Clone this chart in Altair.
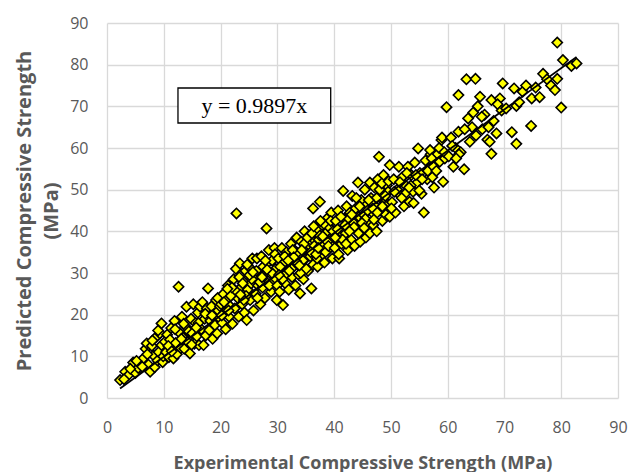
import altair as alt
import pandas as pd

# Experimental (x) and predicted (y) compressive strength, in bands of x
exp_a = [2.3, 3.2, 3.8, 4.6, 5.0, 5.5, 6.0, 6.4, 6.8, 7.0, 7.3, 7.6, 7.9, 8.2, 8.4, 8.7, 8.9, 9.1, 9.3, 9.6,
         9.6, 9.8, 6.2, 5.2, 7.1, 8.0, 9.0, 4.1, 3.0, 9.9]
pred_a = [4.3, 6.3, 5.5, 8.5, 6.0, 7.2, 8.8, 9.5, 11.8, 13.1, 8.0, 6.3, 12.5, 10.2, 7.4, 14.7, 9.0, 11.0, 15.5, 17.9,
          12.7, 8.6, 7.5, 8.9, 10.5, 13.8, 16.2, 7.0, 4.5, 10.0]

exp_b = [10.2, 10.4, 10.6, 10.9, 11.1, 11.3, 11.5, 11.7, 11.9, 12.1, 12.3, 12.6, 12.8, 13.0, 13.2, 13.4, 13.6, 13.8,
         14.0, 14.2, 14.4, 14.6, 14.8, 15.0, 15.2, 15.4, 15.6, 15.8, 16.0, 16.2, 16.4, 16.6, 16.8, 17.0, 17.2, 17.4,
         17.6, 17.8, 18.0, 18.2, 18.4, 18.6, 18.8, 19.0, 19.2, 19.4, 19.6, 19.8, 10.8, 12.0, 13.5, 14.9, 16.1, 17.3,
         18.5, 19.5, 11.4, 13.1, 15.7, 19.9]
pred_b = [13.5, 11.0, 15.2, 9.8, 14.0, 16.8, 12.2, 9.5, 18.5, 13.2, 10.5, 26.7, 15.6, 12.0, 19.5, 14.5, 11.8, 17.2,
          21.9, 13.5, 16.0, 10.7, 19.0, 15.5, 22.5, 13.0, 18.0, 14.8, 20.5, 12.7, 21.9, 16.5, 23.0, 12.7, 19.0, 15.0,
          21.5, 26.3, 16.3, 18.5, 22.0, 14.2, 20.0, 17.5, 23.5, 15.5, 21.0, 19.2, 12.5, 16.5, 17.8, 12.8, 18.0, 20.2,
          19.8, 24.0, 11.2, 14.2, 16.9, 22.0]

exp_c = [20.1, 20.3, 20.5, 20.7, 20.9, 21.1, 21.3, 21.5, 21.7, 21.9, 22.1, 22.3, 22.5, 22.7, 22.8, 23.0, 23.2, 23.4,
         23.6, 23.8, 24.0, 24.2, 24.4, 24.6, 24.8, 25.0, 25.2, 25.4, 25.6, 25.8, 26.0, 26.2, 26.4, 26.6, 26.8, 27.0,
         27.2, 27.4, 27.6, 27.8, 28.0, 28.1, 28.3, 28.5, 28.7, 28.9, 29.1, 29.3, 29.5, 29.7, 29.9, 20.6, 21.4, 22.6,
         23.3, 24.5, 25.5, 26.5, 27.5, 28.6, 29.6, 20.2, 21.8, 23.9, 25.1, 26.9, 28.2, 29.2, 22.0, 24.1, 26.3, 27.9,
         29.8, 21.2, 25.7, 23.5, 27.3, 24.7]
pred_c = [22.5, 18.0, 25.0, 20.5, 16.5, 23.5, 27.0, 19.5, 22.0, 25.5, 17.8, 28.5, 21.5, 31.0, 44.3, 24.0, 19.5, 32.3,
          26.5, 22.5, 28.0, 20.5, 30.5, 18.7, 26.0, 31.5, 23.5, 27.5, 33.5, 21.0, 29.0, 25.0, 33.5, 27.0, 30.0, 22.5,
          34.0, 26.5, 29.5, 24.0, 32.0, 40.7, 27.5, 35.5, 30.0, 25.5, 33.0, 28.0, 36.0, 31.0, 23.5, 23.0, 21.0, 25.8,
          29.0, 24.5, 28.5, 24.0, 31.5, 27.0, 34.5, 19.8, 24.5, 27.5, 29.5, 27.8, 30.8, 29.8, 26.5, 23.5, 30.5, 33.0,
          28.5, 26.2, 30.2, 24.8, 29.0, 32.0]

exp_d = [30.0, 30.2, 30.4, 30.6, 30.8, 31.0, 31.0, 31.2, 31.4, 31.6, 31.8, 32.0, 32.2, 32.4, 32.6, 32.8, 33.0, 33.2,
         33.4, 33.6, 33.8, 34.0, 34.0, 34.2, 34.4, 34.6, 34.8, 35.0, 35.2, 35.4, 35.6, 35.8, 36.0, 36.3, 36.3, 36.5,
         36.7, 36.9, 37.1, 37.3, 37.5, 37.7, 37.9, 38.1, 38.3, 38.5, 38.7, 38.9, 39.1, 39.3, 39.5, 39.7, 39.9, 30.5,
         31.5, 32.5, 33.5, 34.5, 35.5, 36.5, 37.5, 38.5, 39.5, 30.9, 32.1, 33.3, 34.7, 35.9, 37.0, 38.2, 39.4, 31.3,
         32.7, 34.1, 35.3, 36.1, 37.6, 38.8, 39.8, 30.3, 33.9, 36.8, 38.0, 35.1, 32.9, 37.2, 39.0, 31.9, 34.3, 36.4]
pred_d = [27.0, 33.5, 25.5, 30.0, 36.0, 22.3, 29.0, 32.5, 27.5, 35.0, 30.5, 26.0, 33.5, 37.0, 29.0, 31.5, 35.5, 27.0,
          38.5, 32.0, 29.5, 25.1, 34.5, 37.5, 31.0, 28.5, 40.0, 33.5, 36.0, 30.5, 39.0, 34.0, 26.3, 45.5, 32.0, 37.5,
          35.0, 40.5, 31.5, 38.0, 47.1, 34.0, 41.5, 36.5, 32.5, 39.5, 43.0, 35.5, 41.0, 37.0, 44.5, 33.5, 40.0, 31.5,
          29.8, 31.0, 34.8, 33.0, 36.8, 36.5, 39.0, 35.0, 38.5, 28.5, 30.5, 32.8, 37.0, 35.0, 33.5, 41.8, 42.5, 34.0,
          35.5, 30.0, 38.5, 39.5, 42.5, 37.5, 40.0, 29.5, 31.8, 34.5, 38.8, 31.0, 33.8, 36.0, 36.5, 33.0, 35.5, 41.2]

exp_e = [40.1, 40.3, 40.5, 40.7, 40.9, 41.1, 41.3, 41.6, 41.8, 42.0, 42.2, 42.4, 42.6, 42.8, 43.0, 43.2, 43.4, 43.6,
         43.8, 44.0, 44.2, 44.4, 44.6, 44.8, 45.0, 45.2, 45.4, 45.6, 45.8, 46.0, 46.3, 46.3, 46.5, 46.7, 46.9, 47.1,
         47.3, 47.5, 47.7, 47.9, 48.1, 48.3, 48.5, 48.7, 48.9, 49.1, 49.3, 49.5, 49.8, 49.8, 40.6, 41.5, 42.5, 43.5,
         44.5, 45.5, 46.5, 47.5, 48.5, 49.5, 40.2, 41.9, 43.1, 44.3, 45.9, 47.0, 48.0, 49.0, 42.7, 44.9, 46.8, 48.4,
         41.2, 43.9, 45.3, 47.6, 49.6, 40.8, 42.1, 46.1]
pred_e = [36.0, 42.5, 38.5, 45.0, 33.5, 40.0, 37.0, 49.7, 43.0, 39.5, 46.0, 35.5, 41.5, 44.5, 38.0, 48.5, 42.0, 36.5,
          45.5, 40.5, 51.7, 43.5, 37.5, 47.5, 41.0, 44.0, 50.0, 38.5, 46.5, 42.0, 51.7, 39.5, 48.0, 44.5, 41.5, 50.5,
          46.0, 40.0, 52.5, 57.9, 45.0, 49.0, 42.5, 53.5, 47.0, 44.0, 51.0, 46.5, 55.9, 43.5, 40.5, 38.0, 43.0, 41.0,
          46.0, 43.0, 47.0, 48.0, 46.0, 49.5, 38.5, 41.5, 44.0, 39.5, 45.0, 42.8, 50.0, 48.5, 40.0, 42.0, 45.5, 51.5,
          43.5, 48.0, 40.8, 44.5, 52.0, 34.5, 37.0, 47.5]

exp_f = [50.2, 50.5, 50.8, 51.1, 51.4, 51.7, 52.0, 52.3, 52.6, 53.0, 53.3, 53.6, 53.9, 54.2, 54.5, 54.8, 55.1, 55.4,
         55.8, 56.1, 56.4, 56.7, 57.0, 57.3, 57.6, 57.9, 58.2, 58.6, 58.9, 59.2, 59.5, 59.8, 50.6, 51.6, 52.5, 53.5,
         54.4, 55.5, 56.5, 57.5, 58.5, 59.4, 50.1, 51.9, 53.2, 55.0, 56.9, 58.0, 52.8, 54.0, 57.2, 59.0]
pred_f = [47.0, 52.5, 44.5, 50.0, 55.5, 48.5, 53.0, 46.0, 51.0, 55.5, 47.1, 53.5, 49.5, 56.5, 51.5, 59.9, 54.0, 49.0,
          44.5, 57.0, 52.5, 55.0, 58.5, 53.0, 50.5, 56.0, 58.5, 56.7, 61.9, 51.9, 57.5, 69.8, 49.5, 51.8, 49.0, 51.0,
          53.5, 52.5, 54.5, 55.5, 60.0, 59.0, 45.5, 48.0, 50.5, 49.8, 59.5, 54.5, 54.0, 46.8, 57.5, 62.5]

exp_g = [60.2, 60.6, 61.0, 61.4, 61.9, 61.9, 62.3, 62.9, 63.3, 63.6, 63.9, 64.3, 64.9, 65.3, 65.7, 66.1, 66.5, 67.0,
         67.4, 67.7, 67.7, 68.1, 68.6, 69.2, 69.7, 60.8, 62.0, 63.0, 64.5, 66.0, 67.2, 68.8, 65.0, 61.5, 69.5]
pred_g = [58.0, 62.5, 55.5, 60.0, 72.7, 63.9, 59.0, 54.9, 76.5, 67.1, 61.5, 65.0, 76.6, 70.0, 72.3, 64.5, 68.0, 62.0,
          61.5, 71.5, 58.6, 66.5, 63.5, 71.9, 75.5, 60.5, 58.5, 64.5, 68.5, 67.5, 65.0, 70.5, 63.0, 57.5, 69.0]

exp_h = [70.3, 71.3, 71.7, 72.1, 72.1, 72.6, 73.2, 73.8, 74.7, 74.8, 75.5, 76.2, 76.8, 77.5, 78.2, 78.9, 79.3, 79.3,
         80.0, 80.3, 81.8, 82.7]
pred_h = [69.5, 63.8, 74.3, 61.0, 70.1, 71.0, 73.5, 75.0, 65.3, 71.9, 74.5, 72.2, 77.8, 76.5, 75.0, 73.9, 85.3, 76.6,
          69.7, 81.1, 79.7, 80.3]

slope = 0.9897
equation_label = "y = 0.9897x"
axis_ticks = [0, 10, 20, 30, 40, 50, 60, 70, 80, 90]
box_exp = [12.5, 39.4]     # equation box extent, data units
box_pred = [66.0, 74.4]

exp_all = exp_a + exp_b + exp_c + exp_d + exp_e + exp_f + exp_g + exp_h
pred_all = pred_a + pred_b + pred_c + pred_d + pred_e + pred_f + pred_g + pred_h
df = pd.DataFrame({"exp": exp_all, "pred": pred_all})

x0, x1 = min(exp_all), max(exp_all)
line_df = pd.DataFrame({"exp": [x0, x1], "pred": [slope * x0, slope * x1]})
box_df = pd.DataFrame({"exp": [box_exp[0]], "exp_end": [box_exp[1]],
                       "pred": [box_pred[0]], "pred_end": [box_pred[1]]})
text_df = pd.DataFrame({"exp": [sum(box_exp) / 2], "pred": [sum(box_pred) / 2], "label": [equation_label]})

GRID = "#d9d9d9"
LABEL = "#595959"
xs = alt.Scale(domain=[0, 90], nice=False, zero=False)
ys = alt.Scale(domain=[0, 90], nice=False, zero=False)

x_axis = alt.Axis(values=axis_ticks, title="Experimental Compressive Strength (MPa)",
                  grid=True, gridColor=GRID, gridWidth=1.3, domain=False, ticks=False,
                  labelFont="Open Sans", labelFontSize=16, labelColor=LABEL, labelPadding=21,
                  labelFlush=False, labelOverlap=False,
                  titleFont="Open Sans", titleFontSize=18, titleFontWeight="bold", titleColor=LABEL,
                  titleX=255.5, titleY=70, titleBaseline="alphabetic", titleAlign="center")
y_axis = alt.Axis(values=axis_ticks, title=["Predicted Compressive Strength", "(MPa)"],
                  grid=True, gridColor=GRID, gridWidth=1.3, domain=False, ticks=False,
                  labelFont="Open Sans", labelFontSize=16, labelColor=LABEL, labelPadding=19,
                  labelFlush=False, labelOverlap=False,
                  titleFont="Open Sans", titleFontSize=20, titleFontWeight="bold", titleColor=LABEL,
                  titleAngle=-90, titleX=-77, titleY=187.5, titleBaseline="alphabetic",
                  titleAlign="center", titleLineHeight=27)

points = alt.Chart(df).mark_point(
    shape="diamond", fill="#ffff00", stroke="#000000", strokeWidth=1.6, size=105,
    fillOpacity=1, strokeOpacity=1, opacity=1
).encode(
    x=alt.X("exp:Q", scale=xs, axis=x_axis),
    y=alt.Y("pred:Q", scale=ys, axis=y_axis),
)

trend = alt.Chart(line_df).mark_line(color="#000000", strokeWidth=1.8).encode(
    x=alt.X("exp:Q", scale=xs),
    y=alt.Y("pred:Q", scale=ys),
)

box = alt.Chart(box_df).mark_rect(fill="#ffffff", stroke="#000000", strokeWidth=1.3).encode(
    x=alt.X("exp:Q", scale=xs), x2="exp_end:Q",
    y=alt.Y("pred:Q", scale=ys), y2="pred_end:Q",
)

label = alt.Chart(text_df).mark_text(font="Liberation Serif", fontSize=22, color="#000000").encode(
    x=alt.X("exp:Q", scale=xs),
    y=alt.Y("pred:Q", scale=ys),
    text="label:N",
)

chart = alt.layer(points, trend, box, label).properties(
    width=511, height=375,
    autosize=alt.AutoSizeParams(type="none"),
    padding={"left": 107, "top": 23, "right": 11, "bottom": 74},
    background="#ffffff",
).configure_view(strokeWidth=0)

chart.save("out.html", embed_options={"renderer": "svg", "actions": False})
